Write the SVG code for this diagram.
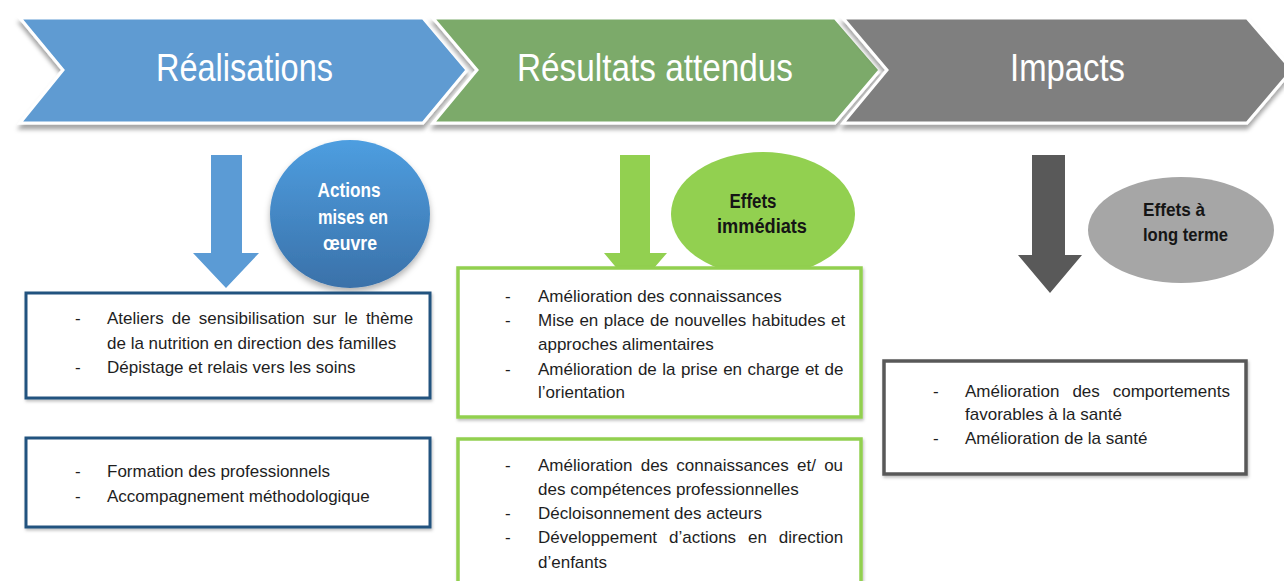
<svg xmlns="http://www.w3.org/2000/svg" width="1284" height="581" viewBox="0 0 1284 581">
<style>
.chev{stroke:#ffffff;stroke-width:3;stroke-linejoin:miter;filter:url(#sh)}
.title{font-family:"Liberation Sans",Arial,sans-serif;font-size:38px;fill:#ffffff;text-anchor:middle}
.body{font-family:"Liberation Sans",Arial,sans-serif;font-size:17px;fill:#1e1e1e}
.ell{font-family:"Liberation Sans",Arial,sans-serif;font-weight:bold;text-anchor:middle}
.box{fill:#ffffff;filter:url(#bs)}
</style>
<defs>
<filter id="sh" x="-5%" y="-10%" width="110%" height="130%">
<feDropShadow dx="0" dy="5" stdDeviation="2" flood-color="#000" flood-opacity="0.35"/>
</filter>
<filter id="bs" x="-5%" y="-5%" width="110%" height="115%">
<feDropShadow dx="1" dy="2" stdDeviation="1.5" flood-color="#000" flood-opacity="0.25"/>
</filter>
<filter id="es" x="-20%" y="-20%" width="140%" height="150%">
<feDropShadow dx="0" dy="4" stdDeviation="3" flood-color="#000" flood-opacity="0.3"/>
</filter>
<linearGradient id="bg" x1="0" y1="0" x2="0" y2="1">
<stop offset="0" stop-color="#4E9EE0"/>
<stop offset="1" stop-color="#3A71A9"/>
</linearGradient>
</defs>

<g id="chevron-realisations">
<polygon class="chev" fill="#5E9BD2" points="20,18 423,18 467,70 423,123 20,123 63,70"/>
<text class="title" x="244.5" y="81" textLength="177" lengthAdjust="spacingAndGlyphs">Réalisations</text>
</g>
<g id="chevron-resultats">
<polygon class="chev" fill="#7BAA6A" points="433,18 835,18 880,70 835,123 433,123 477,70"/>
<text class="title" x="655" y="81" textLength="276" lengthAdjust="spacingAndGlyphs">Résultats attendus</text>
</g>
<g id="chevron-impacts">
<polygon class="chev" fill="#7F7F7F" points="843,18 1247,18 1292,70 1247,123 843,123 887,70"/>
<text class="title" x="1067.5" y="81" textLength="115" lengthAdjust="spacingAndGlyphs">Impacts</text>
</g>

<g id="connectors">
<polygon fill="#5B9BD5" points="211,155 242,155 242,253 259,253 226,288 193,253 211,253"/>
<polygon fill="#92D050" points="620,155 650,155 650,253 667,253 635,290 604,253 620,253"/>
<polygon fill="#595959" points="1032,155 1065,155 1065,255 1082,255 1050,293 1018,255 1032,255"/>
</g>

<g id="ellipse-actions">
<ellipse cx="350" cy="214" rx="80" ry="74" fill="url(#bg)" filter="url(#es)"/>
<text class="ell" font-size="21" fill="#ffffff" x="349" y="197" textLength="63" lengthAdjust="spacingAndGlyphs">Actions</text>
<text class="ell" font-size="21" fill="#ffffff" x="353" y="224" textLength="70" lengthAdjust="spacingAndGlyphs">mises en</text>
<text class="ell" font-size="21" fill="#ffffff" x="350" y="250" textLength="54" lengthAdjust="spacingAndGlyphs">œuvre</text>
</g>

<g id="ellipse-effets-immediats">
<ellipse cx="763" cy="214" rx="92" ry="62" fill="#92D050"/>
<text class="ell" font-size="20" fill="#151515" x="753" y="208" textLength="47" lengthAdjust="spacingAndGlyphs">Effets</text>
<text class="ell" font-size="20" fill="#151515" x="762" y="233" textLength="90" lengthAdjust="spacingAndGlyphs">immédiats</text>
</g>

<g id="ellipse-effets-long-terme">
<ellipse cx="1181" cy="230" rx="93" ry="53" fill="#A6A6A6"/>
<text class="ell" font-size="19" fill="#151515" x="1174" y="216" textLength="62" lengthAdjust="spacingAndGlyphs">Effets  à</text>
<text class="ell" font-size="19" fill="#151515" x="1185.5" y="241" textLength="85" lengthAdjust="spacingAndGlyphs">long terme</text>
</g>

<g id="box-realisations-1">
<rect class="box" x="26" y="293" width="404" height="105" stroke="#24527F" stroke-width="3"/>
<text class="body" x="75" y="324">-</text>
<text class="body" x="107" y="324" word-spacing="3.4">Ateliers de sensibilisation sur le thème</text>
<text class="body" x="107" y="349">de la nutrition en direction des familles</text>
<text class="body" x="75" y="373">-</text>
<text class="body" x="107" y="373">Dépistage et relais vers les soins</text>
</g>

<g id="box-realisations-2">
<rect class="box" x="26" y="438" width="404" height="89" stroke="#24527F" stroke-width="3"/>
<text class="body" x="75" y="477">-</text>
<text class="body" x="107" y="477">Formation des professionnels</text>
<text class="body" x="75" y="502">-</text>
<text class="body" x="107" y="502">Accompagnement méthodologique</text>
</g>

<g id="box-resultats-1">
<rect class="box" x="458" y="268" width="403" height="149" stroke="#92D050" stroke-width="3.5"/>
<text class="body" x="505" y="302">-</text>
<text class="body" x="538" y="302">Amélioration des connaissances</text>
<text class="body" x="505" y="326">-</text>
<text class="body" x="538" y="326" word-spacing="0.8">Mise en place de nouvelles habitudes et</text>
<text class="body" x="538" y="350">approches alimentaires</text>
<text class="body" x="505" y="375">-</text>
<text class="body" x="538" y="375" word-spacing="0.7">Amélioration de la prise en charge et de</text>
<text class="body" x="538" y="398">l’orientation</text>
</g>

<g id="box-resultats-2">
<rect class="box" x="458" y="439" width="403" height="160" stroke="#92D050" stroke-width="3.5"/>
<text class="body" x="505" y="471">-</text>
<text class="body" x="538" y="471" word-spacing="3.5">Amélioration des connaissances et/ ou</text>
<text class="body" x="538" y="495">des compétences professionnelles</text>
<text class="body" x="505" y="519">-</text>
<text class="body" x="538" y="519">Décloisonnement des acteurs</text>
<text class="body" x="505" y="543">-</text>
<text class="body" x="538" y="543" word-spacing="7.2">Développement d’actions en direction</text>
<text class="body" x="538" y="568">d’enfants</text>
</g>

<g id="box-impacts">
<rect class="box" x="884" y="361" width="362" height="113" stroke="#595959" stroke-width="3.5"/>
<text class="body" x="933" y="397">-</text>
<text class="body" x="965" y="397" word-spacing="8.2">Amélioration des comportements</text>
<text class="body" x="965" y="420">favorables à la santé</text>
<text class="body" x="933" y="444">-</text>
<text class="body" x="965" y="444">Amélioration de la santé</text>
</g>
</svg>
